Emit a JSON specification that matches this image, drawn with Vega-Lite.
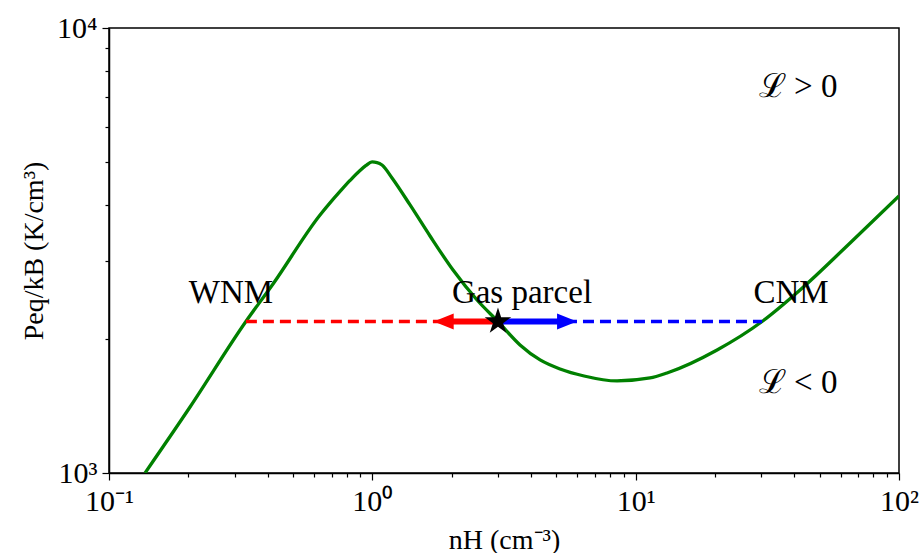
{
  "$schema": "https://vega.github.io/schema/vega-lite/v6.json",
  "width": 790,
  "height": 445,
  "autosize": "none",
  "padding": {"left": 109, "top": 28, "right": 23, "bottom": 80},
  "background": "white",
  "config": {
    "font": "Liberation Serif",
    "view": {"stroke": "black", "strokeWidth": 1.5},
    "axis": {
      "grid": false,
      "domainColor": "black",
      "domainWidth": 1.5,
      "tickColor": "black",
      "tickWidth": 1.2,
      "labelColor": "black",
      "labelFont": "Liberation Serif",
      "labelFontSize": 30,
      "labelOverlap": false,
      "labelFlush": false,
      "labelBound": false,
      "titleColor": "black",
      "titleFont": "Liberation Serif",
      "titleFontSize": 28,
      "titleFontWeight": "normal"
    }
  },
  "datasets": {
    "curve": [
      {"n": 0.137, "p": 1000},
      {"n": 0.2031, "p": 1407},
      {"n": 0.331, "p": 2190},
      {"n": 0.4196, "p": 2659},
      {"n": 0.633, "p": 3800},
      {"n": 0.6907, "p": 4045},
      {"n": 0.754, "p": 4292},
      {"n": 0.8228, "p": 4543},
      {"n": 0.8979, "p": 4784},
      {"n": 0.9464, "p": 4910},
      {"n": 0.9974, "p": 5000},
      {"n": 1.042, "p": 4985},
      {"n": 1.0885, "p": 4922},
      {"n": 1.188, "p": 4602},
      {"n": 1.3909, "p": 4003},
      {"n": 1.656, "p": 3409},
      {"n": 2.0255, "p": 2858},
      {"n": 2.4985, "p": 2448},
      {"n": 3.0, "p": 2190},
      {"n": 3.638, "p": 1940},
      {"n": 4.336, "p": 1795},
      {"n": 5.163, "p": 1713},
      {"n": 6.369, "p": 1652},
      {"n": 8.5, "p": 1610},
      {"n": 11.34, "p": 1635},
      {"n": 13.16, "p": 1678},
      {"n": 20.38, "p": 1890},
      {"n": 30.2, "p": 2190},
      {"n": 42.1, "p": 2578},
      {"n": 65.2, "p": 3288},
      {"n": 100, "p": 4193}
    ],
    "path": [
      {"side": "warm", "n": 0.331, "p": 2190},
      {"side": "warm", "n": 3.0, "p": 2190},
      {"side": "cold", "n": 3.0, "p": 2190},
      {"side": "cold", "n": 30.2, "p": 2190}
    ],
    "shaft": [
      {"side": "warm", "n": 3.0, "p": 2190},
      {"side": "warm", "n": 1.95, "p": 2190},
      {"side": "cold", "n": 3.0, "p": 2190},
      {"side": "cold", "n": 5.2, "p": 2190}
    ],
    "head": [
      {"side": "warm", "n": 1.71, "p": 2190},
      {"side": "cold", "n": 5.99, "p": 2190}
    ],
    "parcel": [
      {"n": 3.0, "p": 2190}
    ],
    "labels": [
      {"n": 0.2905, "p": 2410, "text": "WNM"},
      {"n": 3.7, "p": 2410, "text": "Gas parcel"},
      {"n": 38.9, "p": 2410, "text": "CNM"},
      {"n": 41.4, "p": 7000, "text": "ℒ > 0"},
      {"n": 41.4, "p": 1513, "text": "ℒ < 0"}
    ]
  },
  "encoding": {
    "x": {
      "field": "n",
      "type": "quantitative",
      "scale": {"type": "log", "domain": [0.1, 100], "nice": false},
      "axis": {
        "title": "nH (cm⁻³)",
        "titlePadding": 10,
        "labelPadding": 6,
        "values": [0.1, 0.2, 0.3, 0.4, 0.5, 0.6, 0.7, 0.8, 0.9, 1, 2, 3, 4, 5, 6, 7, 8, 9, 10, 20, 30, 40, 50, 60, 70, 80, 90, 100],
        "labelExpr": "datum.value == 0.1 ? '10⁻¹' : datum.value == 1 ? '10⁰' : datum.value == 10 ? '10¹' : datum.value == 100 ? '10²' : ''",
        "tickSize": {"condition": {"test": "indexof([0.1, 1, 10, 100], datum.value) >= 0", "value": 7}, "value": 4}
      }
    },
    "y": {
      "field": "p",
      "type": "quantitative",
      "scale": {"type": "log", "domain": [1000, 10000], "nice": false},
      "axis": {
        "title": "Peq/kB (K/cm³)",
        "titlePadding": 8,
        "labelPadding": 5,
        "values": [1000, 2000, 3000, 4000, 5000, 6000, 7000, 8000, 9000, 10000],
        "labelExpr": "datum.value == 1000 ? '10³' : datum.value == 10000 ? '10⁴' : ''",
        "tickSize": {"condition": {"test": "indexof([1000, 10000], datum.value) >= 0", "value": 7}, "value": 4}
      }
    }
  },
  "layer": [
    {
      "data": {"name": "curve"},
      "mark": {"type": "line", "color": "green", "strokeWidth": 3.3, "interpolate": "monotone", "clip": true}
    },
    {
      "data": {"name": "path"},
      "mark": {"type": "line", "strokeWidth": 3.3, "strokeDash": [11, 6]},
      "encoding": {
        "detail": {"field": "side"},
        "color": {"field": "side", "scale": {"domain": ["warm", "cold"], "range": ["red", "blue"]}, "legend": null}
      }
    },
    {
      "data": {"name": "shaft"},
      "mark": {"type": "line", "strokeWidth": 6, "strokeCap": "butt"},
      "encoding": {
        "detail": {"field": "side"},
        "color": {"field": "side", "scale": {"domain": ["warm", "cold"], "range": ["red", "blue"]}, "legend": null}
      }
    },
    {
      "data": {"name": "head"},
      "mark": {"type": "point", "filled": true, "opacity": 1, "size": 100},
      "encoding": {
        "color": {"field": "side", "scale": {"domain": ["warm", "cold"], "range": ["red", "blue"]}, "legend": null},
        "shape": {"field": "side", "scale": {"domain": ["warm", "cold"], "range": ["M0,0L4,-1.6L4,1.6Z", "M0,0L-4,-1.6L-4,1.6Z"]}, "legend": null}
      }
    },
    {
      "data": {"name": "parcel"},
      "mark": {
        "type": "point",
        "shape": "M0,-1L0.2245,-0.309L0.9511,-0.309L0.3633,0.118L0.5878,0.809L0,0.382L-0.5878,0.809L-0.3633,0.118L-0.9511,-0.309L-0.2245,-0.309Z",
        "filled": true,
        "color": "black",
        "opacity": 1,
        "size": 784
      }
    },
    {
      "data": {"name": "labels"},
      "mark": {"type": "text", "font": "Liberation Serif", "fontSize": 33, "align": "center", "baseline": "alphabetic", "color": "black"},
      "encoding": {"text": {"field": "text"}}
    }
  ]
}
